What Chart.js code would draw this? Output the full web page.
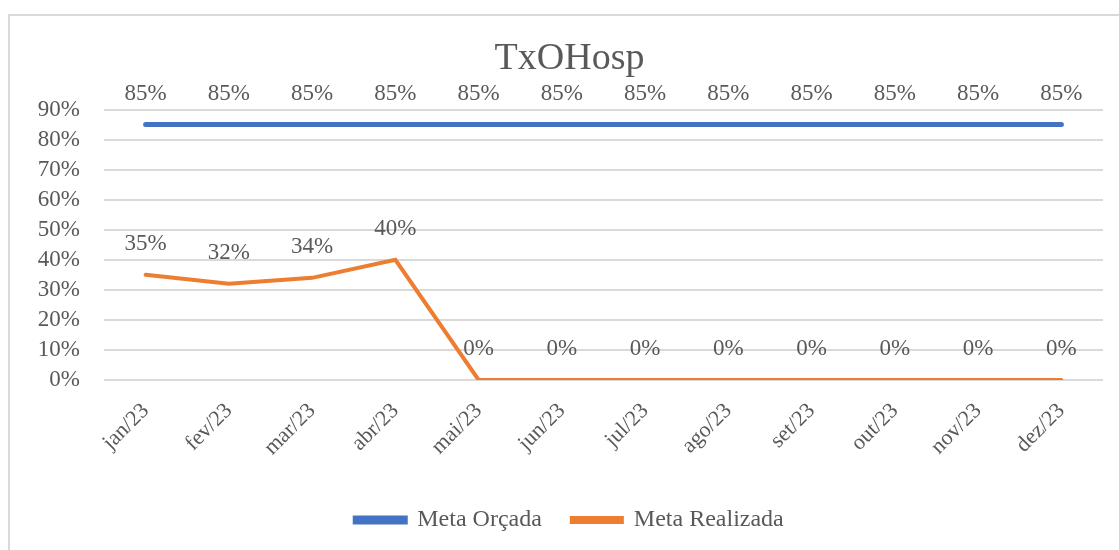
<!DOCTYPE html>
<html>
<head>
<meta charset="utf-8">
<script src="https://cdn.jsdelivr.net/npm/chart.js@4/dist/chart.umd.min.js"></script>
<style>
  body { margin: 0; background: #fff; overflow: hidden; }
  #frame { position: absolute; left: 8px; top: 14px; width: 1200px; height: 600px; border: 2px solid #d9d9d9; }
  #wrap { position: absolute; left: 0; top: 0; width: 1119px; height: 550px; }
</style>
</head>
<body>
<div id="frame"></div>
<div id="wrap"><canvas id="chart" width="1119" height="550"></canvas></div>
<script>
var meses = ['jan/23', 'fev/23', 'mar/23', 'abr/23', 'mai/23', 'jun/23', 'jul/23', 'ago/23', 'set/23', 'out/23', 'nov/23', 'dez/23'];
var metaOrcada = [85, 85, 85, 85, 85, 85, 85, 85, 85, 85, 85, 85];
var metaRealizada = [35, 32, 34, 40, 0, 0, 0, 0, 0, 0, 0, 0];

var fonte = "'Liberation Serif', 'Times New Roman', serif";
var cinza = '#595959';

// rótulos de dados acima de cada ponto
var rotulos = {
    id: 'rotulos',
    afterDatasetsDraw: function (chart) {
        var ctx = chart.ctx;
        ctx.save();
        ctx.font = '23px ' + fonte;
        ctx.fillStyle = cinza;
        ctx.textAlign = 'center';
        ctx.textBaseline = 'middle';
        chart.data.datasets.forEach(function (ds, i) {
            var meta = chart.getDatasetMeta(i);
            meta.data.forEach(function (pt, j) {
                ctx.fillText(ds.data[j] + '%', pt.x, pt.y - 31);
            });
        });
        ctx.restore();
    }
};

new Chart(document.getElementById('chart'), {
    type: 'line',
    data: {
        labels: meses,
        datasets: [{
            label: 'Meta Orçada',
            data: metaOrcada,
            borderColor: '#4472C4',
            backgroundColor: '#4472C4',
            borderWidth: 5,
            borderCapStyle: 'round',
            pointRadius: 0,
            tension: 0
        }, {
            label: 'Meta Realizada',
            data: metaRealizada,
            borderColor: '#ED7D31',
            backgroundColor: '#ED7D31',
            borderWidth: 4,
            borderCapStyle: 'round',
            pointRadius: 0,
            tension: 0
        }]
    },
    options: {
        responsive: false,
        animation: false,
        layout: { padding: { left: 36, right: 16, top: 0, bottom: 8 } },
        scales: {
            x: {
                offset: true,
                grid: { display: false },
                border: { display: false },
                ticks: {
                    color: cinza,
                    font: { family: fonte, size: 22 },
                    minRotation: 45,
                    maxRotation: 45,
                    padding: 10
                },
                afterFit: function (scale) { scale.height = 98; }
            },
            y: {
                min: 0,
                max: 90,
                grid: { color: '#d9d9d9', lineWidth: 2, drawTicks: false },
                border: { display: false },
                ticks: {
                    stepSize: 10,
                    autoSkip: false,
                    color: cinza,
                    font: { family: fonte, size: 23 },
                    padding: 24,
                    callback: function (v) { return v + '%'; }
                },
                afterFit: function (scale) { scale.width = 68; }
            }
        },
        plugins: {
            title: {
                display: true,
                text: 'TxOHosp',
                color: cinza,
                font: { family: fonte, size: 38, weight: 'normal' },
                padding: { top: 36, bottom: 28 }
            },
            legend: {
                position: 'bottom',
                labels: {
                    color: cinza,
                    font: { family: fonte, size: 24 },
                    boxWidth: 50,
                    boxHeight: 4,
                    padding: 30
                }
            },
            tooltip: { enabled: false }
        }
    },
    plugins: [rotulos]
});
</script>
</body>
</html>
